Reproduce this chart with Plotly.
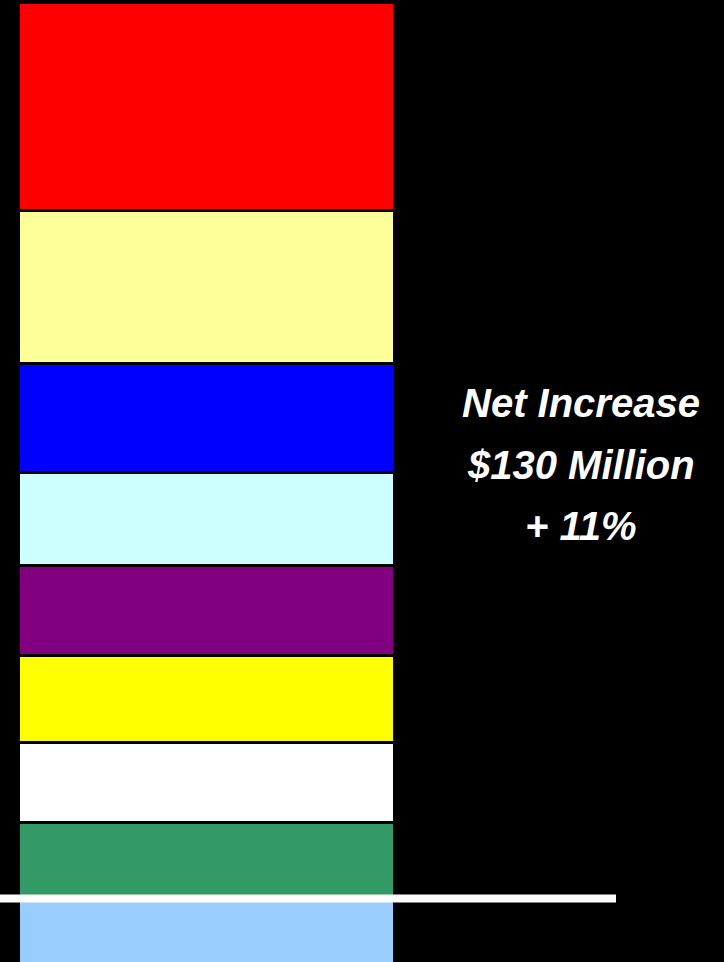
import plotly.graph_objects as go

# Stacked increase components ($ millions), bottom to top
segments = ["Base", "Green", "White", "Yellow", "Purple", "Cyan", "Blue", "Light Yellow", "Red"]
values = [1182.0, 11.0, 11.6, 12.6, 13.0, 13.5, 15.8, 22.3, 30.2]
colors = ["#99CCFF", "#339966", "#FFFFFF", "#FFFF00", "#800080",
          "#CCFFFF", "#0000FF", "#FFFF99", "#FF0000"]

base_level = values[0]
net_increase = sum(values[1:])
labels = ["Net Increase", "$130 Million", "+ 11%"]

fig = go.Figure()
for name, v, c in zip(segments, values, colors):
    fig.add_trace(go.Bar(
        x=[0], y=[v], width=[1], name=name,
        marker=dict(color=c, line=dict(color="#000000", width=3)),
        hoverinfo="name+y",
    ))

# Reference line at the base level
fig.add_shape(type="line", xref="paper", yref="y",
              x0=0, x1=616 / 724, y0=base_level, y1=base_level,
              line=dict(color="#FFFFFF", width=8), layer="above")

for i, t in enumerate(labels):
    fig.add_annotation(xref="paper", yref="paper",
                       x=581 / 724, y=1 - (403 + 61.5 * i) / 962,
                       text=f"<b><i>{t}</i></b>", showarrow=False,
                       xanchor="center", yanchor="middle",
                       font=dict(family="Liberation Sans, Arial, sans-serif",
                                 size=40, color="#FFFFFF"))

px_per_unit = (898.5 - 2.5) / net_increase
fig.update_layout(
    width=724, height=962,
    margin=dict(l=0, r=0, t=0, b=0),
    paper_bgcolor="#000000", plot_bgcolor="#000000",
    barmode="stack", showlegend=False, bargap=0,
    xaxis=dict(range=[-206.5 / 376, (724 - 206.5) / 376], visible=False, fixedrange=True),
    yaxis=dict(range=[base_level - (962 - 898.5) / px_per_unit,
                      base_level + 898.5 / px_per_unit],
               visible=False, fixedrange=True),
)

fig.write_html("out.html")
